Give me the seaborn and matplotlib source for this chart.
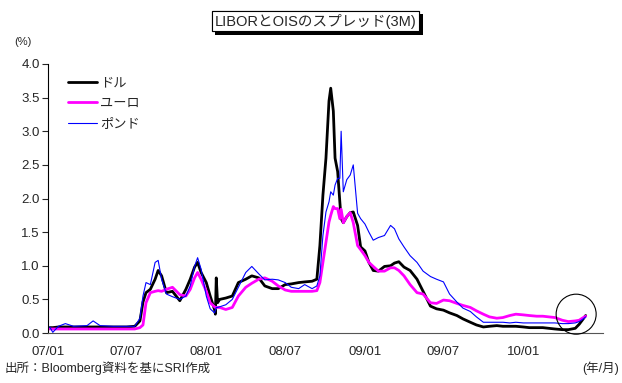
import pandas as pd
import matplotlib
matplotlib.use("Agg")
import matplotlib.pyplot as plt
import matplotlib.patheffects as pe
import seaborn as sns

# Data (%)
dates = [
    "2007-01-05", "2007-01-12", "2007-01-25", "2007-02-10", "2007-03-01", "2007-04-01",
    "2007-04-15", "2007-05-01", "2007-06-01", "2007-07-01", "2007-07-20", "2007-08-01",
    "2007-08-08", "2007-08-15", "2007-08-25", "2007-09-05", "2007-09-12", "2007-09-20",
    "2007-10-01", "2007-10-15", "2007-11-01", "2007-11-15", "2007-11-25", "2007-12-05",
    "2007-12-12", "2007-12-20", "2008-01-01", "2008-01-10", "2008-01-20", "2008-01-22",
    "2008-01-24", "2008-01-27", "2008-02-01", "2008-02-15", "2008-03-01", "2008-03-15",
    "2008-04-01", "2008-04-15", "2008-05-01", "2008-05-15", "2008-06-01", "2008-06-15",
    "2008-07-01", "2008-07-15", "2008-08-01", "2008-08-15", "2008-09-01", "2008-09-12",
    "2008-09-19", "2008-09-26", "2008-10-03", "2008-10-10", "2008-10-14", "2008-10-20",
    "2008-10-24", "2008-10-30", "2008-11-04", "2008-11-07", "2008-11-12", "2008-11-20",
    "2008-11-28", "2008-12-05", "2008-12-15", "2008-12-22", "2009-01-01", "2009-01-10",
    "2009-01-20", "2009-02-01", "2009-02-15", "2009-03-01", "2009-03-10", "2009-03-20",
    "2009-04-01", "2009-04-15", "2009-05-01", "2009-05-15", "2009-06-01", "2009-06-15",
    "2009-07-01", "2009-07-15", "2009-08-01", "2009-08-15", "2009-09-01", "2009-09-15",
    "2009-10-01", "2009-10-15", "2009-11-01", "2009-11-15", "2009-12-01", "2009-12-15",
    "2010-01-01", "2010-01-15", "2010-02-01", "2010-02-15", "2010-03-01", "2010-03-15",
    "2010-04-01", "2010-04-15", "2010-05-01", "2010-05-10", "2010-05-17", "2010-05-25",
]

dollar = [
    0.08, 0.08, 0.09, 0.09, 0.09, 0.09,
    0.09, 0.09, 0.09, 0.09, 0.10, 0.18,
    0.46, 0.60, 0.65, 0.80, 0.93, 0.85,
    0.60, 0.62, 0.48, 0.65, 0.80, 0.98,
    1.05, 0.90, 0.75, 0.55, 0.35, 0.28,
    0.82, 0.45, 0.50, 0.52, 0.55, 0.75,
    0.80, 0.85, 0.82, 0.70, 0.66, 0.66,
    0.72, 0.73, 0.75, 0.76, 0.77, 0.80,
    1.30, 2.05, 2.60, 3.45, 3.64, 3.30,
    2.60, 2.40, 1.95, 1.70, 1.64, 1.73,
    1.79, 1.80, 1.60, 1.28, 1.22, 1.05,
    0.93, 0.92, 0.99, 1.00, 1.04, 1.06,
    0.98, 0.93, 0.80, 0.62, 0.40, 0.36,
    0.34, 0.30, 0.26, 0.21, 0.16, 0.12,
    0.09, 0.10, 0.11, 0.10, 0.10, 0.10,
    0.09, 0.08, 0.08, 0.08, 0.07, 0.06,
    0.05, 0.05, 0.07, 0.13, 0.19, 0.26,
]

euro = [
    0.06, 0.06, 0.06, 0.06, 0.06, 0.06,
    0.06, 0.06, 0.06, 0.06, 0.06, 0.08,
    0.12, 0.45, 0.60, 0.62, 0.63, 0.62,
    0.65, 0.68, 0.57, 0.55, 0.65, 0.82,
    0.90, 0.80, 0.62, 0.45, 0.39, 0.38,
    0.38, 0.38, 0.38, 0.35, 0.38, 0.55,
    0.68, 0.74, 0.80, 0.82, 0.77, 0.70,
    0.64, 0.62, 0.62, 0.62, 0.62, 0.63,
    0.75, 1.05, 1.35, 1.65, 1.75, 1.88,
    1.85, 1.85, 1.70, 1.84, 1.64, 1.73,
    1.79, 1.64, 1.30, 1.24, 1.15, 1.05,
    0.99, 0.92, 0.92, 0.97, 0.97, 0.93,
    0.85, 0.72, 0.60, 0.58, 0.45, 0.44,
    0.49, 0.48, 0.44, 0.41, 0.38, 0.33,
    0.28, 0.24, 0.22, 0.23, 0.26, 0.28,
    0.27, 0.26, 0.25, 0.25, 0.24, 0.23,
    0.19, 0.17, 0.18, 0.19, 0.22, 0.25,
]

pound = [
    0.09, 0.01, 0.10, 0.14, 0.10, 0.11,
    0.18, 0.11, 0.10, 0.10, 0.10, 0.22,
    0.55, 0.75, 0.72, 1.05, 1.08, 0.80,
    0.58, 0.54, 0.50, 0.55, 0.70, 0.99,
    1.12, 0.95, 0.55, 0.36, 0.30, 0.34,
    0.38, 0.38, 0.39, 0.42, 0.50, 0.68,
    0.90, 0.99, 0.88, 0.79, 0.80, 0.79,
    0.75, 0.68, 0.66, 0.72, 0.66, 0.70,
    0.85, 1.45, 1.80, 1.95, 2.10, 2.05,
    2.20, 2.30, 2.30, 3.00, 2.10, 2.28,
    2.35, 2.50, 1.78, 1.70, 1.62, 1.50,
    1.38, 1.42, 1.45, 1.60, 1.55, 1.40,
    1.28, 1.15, 1.05, 0.92, 0.84, 0.80,
    0.76, 0.58, 0.46, 0.37, 0.32, 0.24,
    0.16, 0.16, 0.16, 0.16, 0.15, 0.16,
    0.15, 0.15, 0.15, 0.15, 0.15, 0.15,
    0.14, 0.14, 0.15, 0.17, 0.20, 0.24,
]

series_names = ["ドル", "ユーロ", "ポンド"]
tick_dates = ["2007-01-01", "2007-07-01", "2008-01-01", "2008-07-01",
              "2009-01-01", "2009-07-01", "2010-01-01"]
tick_labels = ["07/01", "07/07", "08/01", "08/07", "09/01", "09/07", "10/01"]

df = pd.DataFrame({"date": pd.to_datetime(dates), "ドル": dollar, "ユーロ": euro, "ポンド": pound})
long_df = df.melt(id_vars="date", var_name="series", value_name="spread")

sns.set_style("white")
plt.rcParams["font.family"] = ["Liberation Sans", "Noto Sans CJK JP"]

fig = plt.figure(figsize=(6.22, 3.83), dpi=100)
ax = fig.add_axes([0.0772, 0.1305, 0.8923, 0.7024])

palette = {"ドル": "black", "ユーロ": "#FF00FF", "ポンド": "#0000FF"}
widths = {"ドル": 2.0, "ユーロ": 2.0, "ポンド": 0.8}
for name in series_names:
    sns.lineplot(data=long_df[long_df["series"] == name], x="date", y="spread",
                 color=palette[name], linewidth=widths[name], label=name, ax=ax)

# circle around the latest move
ax.scatter(df["date"].iloc[-1] - pd.Timedelta(days=22), df["ドル"].iloc[-1] + 0.02,
           s=830, facecolors="none", edgecolors="black", linewidths=0.8, zorder=5, clip_on=False)

ax.set_xlim(pd.Timestamp("2007-01-01"), pd.Timestamp("2010-07-04"))
ax.set_ylim(0, 4.0)
ax.set_yticks([0, 0.5, 1.0, 1.5, 2.0, 2.5, 3.0, 3.5, 4.0])
ax.set_yticklabels([f"{v:.1f}" for v in ax.get_yticks()], fontsize=9.5)
ax.set_xticks(pd.to_datetime(tick_dates))
ax.set_xticklabels(tick_labels, fontsize=9.5)
ax.tick_params(axis="x", length=0, pad=9)
ax.tick_params(axis="y", direction="out", length=4, width=0.8, pad=2, left=True)
ax.set_xlabel("")
ax.set_ylabel("")
for side in ["top", "right"]:
    ax.spines[side].set_visible(False)
ax.spines["left"].set_color("black")
ax.spines["left"].set_linewidth(0.8)
ax.spines["bottom"].set_color("#555555")
ax.spines["bottom"].set_linewidth(0.8)

leg = ax.legend(loc="upper left", bbox_to_anchor=(0.015, 0.995), frameon=False,
                fontsize=9.5, handlelength=2.2, handletextpad=0.2, labelspacing=0.62)

# title box with shadow
title = fig.text(0.507, 0.945, "LIBORとOISのスプレッド(3M)", ha="center", va="center", fontsize=10.5,
                 bbox=dict(boxstyle="square,pad=0.2", facecolor="white", edgecolor="black", linewidth=0.8))
title.get_bbox_patch().set_path_effects([
    pe.withSimplePatchShadow(offset=(2.5, -2.5), shadow_rgbFace="black", alpha=1.0), pe.Normal()])

fig.text(0.037, 0.89, "(%)", ha="center", va="center", fontsize=8)
fig.text(0.008, 0.02, "出所：Bloomberg資料を基にSRI作成", ha="left", va="bottom", fontsize=9)
fig.text(0.995, 0.02, "(年/月)", ha="right", va="bottom", fontsize=9)

fig.savefig("out.png", dpi=100)
